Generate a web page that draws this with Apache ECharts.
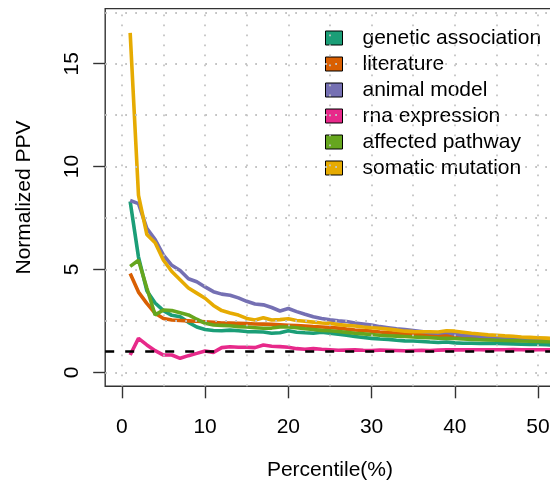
<!DOCTYPE html>
<html>
<head>
<meta charset="utf-8">
<script src="https://cdn.jsdelivr.net/npm/echarts@6/dist/echarts.min.js"></script>
<style>
html,body{margin:0;padding:0;background:#fff;}
#chart{width:550px;height:481px;}
</style>
</head>
<body>
<div id="chart"></div>
<script>
const percentiles = [1,2,3,4,5,6,7,8,9,10,11,12,13,14,15,16,17,18,19,20,21,22,23,24,25,26,27,28,29,30,31,32,33,34,35,36,37,38,39,40,41,42,43,44,45,46,47,48,49,50,51,52,53];

const geneticAssociation = [8.3,5.6,3.97,3.37,3.0,2.77,2.7,2.43,2.2,2.08,2.03,2.02,2.05,2.02,1.98,1.97,1.96,1.9,1.92,2.02,1.95,1.92,1.9,1.95,1.9,1.85,1.8,1.74,1.69,1.65,1.62,1.6,1.56,1.53,1.52,1.5,1.47,1.45,1.47,1.43,1.41,1.41,1.4,1.41,1.4,1.39,1.38,1.37,1.36,1.35,1.34,1.33,1.32];
const literature = [4.8,3.9,3.35,2.87,2.62,2.54,2.52,2.5,2.48,2.46,2.43,2.4,2.39,2.38,2.37,2.35,2.34,2.33,2.31,2.29,2.27,2.25,2.22,2.2,2.18,2.15,2.1,2.06,2.03,2.0,1.96,1.93,1.9,1.87,1.85,1.84,1.82,1.81,1.8,1.76,1.72,1.7,1.67,1.65,1.63,1.61,1.59,1.58,1.57,1.56,1.55,1.54,1.53];
const animalModel = [8.35,8.2,7.0,6.45,5.7,5.2,4.95,4.55,4.4,4.15,3.92,3.8,3.75,3.62,3.45,3.32,3.28,3.15,2.98,3.1,2.95,2.82,2.7,2.62,2.55,2.5,2.47,2.4,2.35,2.3,2.22,2.17,2.12,2.08,2.03,1.98,1.93,1.9,1.95,1.85,1.8,1.78,1.76,1.73,1.71,1.69,1.67,1.65,1.63,1.61,1.58,1.57,1.55];
const rnaExpression = [0.84,1.65,1.33,1.05,0.84,0.84,0.68,0.81,0.92,1.04,0.97,1.2,1.24,1.22,1.22,1.2,1.33,1.27,1.25,1.22,1.15,1.12,1.15,1.12,1.1,1.07,1.08,1.09,1.07,1.06,1.08,1.07,1.06,1.05,1.06,1.07,1.06,1.08,1.09,1.10,1.09,1.10,1.10,1.09,1.10,1.10,1.11,1.10,1.09,1.10,1.10,1.10,1.10];
const affectedPathway = [5.15,5.45,4.1,2.79,3.03,3.0,2.9,2.79,2.58,2.38,2.3,2.28,2.26,2.22,2.2,2.17,2.14,2.15,2.2,2.2,2.17,2.12,2.08,2.04,2.02,1.98,1.94,1.9,1.87,1.84,1.8,1.78,1.76,1.74,1.72,1.7,1.68,1.66,1.65,1.64,1.62,1.6,1.58,1.57,1.56,1.55,1.54,1.52,1.51,1.5,1.49,1.48,1.47];
const somaticMutation = [16.5,8.6,6.7,6.3,5.45,4.9,4.5,4.1,3.85,3.6,3.25,3.0,2.88,2.78,2.62,2.54,2.65,2.54,2.56,2.6,2.52,2.48,2.44,2.4,2.38,2.32,2.28,2.25,2.2,2.17,2.14,2.1,2.05,2.0,1.98,1.97,1.97,1.96,2.02,2.0,1.95,1.9,1.86,1.82,1.8,1.77,1.75,1.72,1.7,1.68,1.66,1.64,1.62];

const seriesNames = ['genetic association','literature','animal model','rna expression','affected pathway','somatic mutation'];
const seriesValues = [geneticAssociation, literature, animalModel, rnaExpression, affectedPathway, somaticMutation];
const seriesColors = ['#1B9E77','#D95F02','#7570B3','#E7298A','#66A61E','#E6AB02'];

const xTickValues = [0,10,20,30,40,50];
const yTickValues = [0,5,10,15];
const xGridValues = [0,5,10,15,20,25,30,35,40,45,50];
const yGridValues = [0,2.5,5,7.5,10,12.5,15,17.5];
const referenceLevel = 1;

const FONT = '"Liberation Sans", Arial, Helvetica, sans-serif';
const chart = echarts.init(document.getElementById('chart'), null, {renderer: 'canvas'});

const dataSeries = seriesNames.map((name, i) => ({
  name: name,
  type: 'line',
  data: percentiles.map((p, j) => [p, seriesValues[i][j]]),
  showSymbol: false,
  symbol: 'none',
  lineStyle: {color: seriesColors[i], width: 3.6},
  itemStyle: {color: seriesColors[i]},
  z: 2,
  emphasis: {disabled: true}
}));

const gridSeries = {
  name: 'grid',
  type: 'line',
  data: [],
  z: 1,
  silent: true,
  markLine: {
    silent: true,
    symbol: 'none',
    label: {show: false},
    animation: false,
    lineStyle: {color: '#c4c4c4', width: 1.8, type: [1.8, 8.2]},
    emphasis: {disabled: true},
    data: xGridValues.map(v => ({xAxis: v})).concat(yGridValues.map(v => ({yAxis: v})))
  }
};

const refSeries = {
  name: 'ref',
  type: 'line',
  data: [],
  z: 3,
  silent: true,
  markLine: {
    silent: true,
    symbol: 'none',
    label: {show: false},
    animation: false,
    lineStyle: {color: '#000', width: 2.6, type: [9, 11]},
    emphasis: {disabled: true},
    data: [{yAxis: referenceLevel}]
  }
};

chart.setOption({
  animation: false,
  backgroundColor: '#fff',
  textStyle: {fontFamily: FONT},
  grid: {
    left: 105.2, top: 8.6, width: 449.5, height: 377.7,
    containLabel: false,
    outerBoundsMode: 'none',
    show: true, borderColor: '#333', borderWidth: 1.4, backgroundColor: 'transparent'
  },
  legend: {
    data: seriesNames,
    orient: 'vertical',
    left: 325, top: 27.5,
    padding: 0,
    icon: 'rect',
    itemWidth: 17, itemHeight: 14,
    itemGap: 5,
    itemStyle: {borderColor: '#000', borderWidth: 1},
    selectedMode: false,
    textStyle: {fontFamily: FONT, fontSize: 21, color: '#000', lineHeight: 21, padding: [0,0,0,15]}
  },
  xAxis: {
    type: 'value',
    min: -2, max: 52,
    name: 'Percentile(%)',
    nameLocation: 'middle',
    nameGap: 73,
    nameTextStyle: {fontFamily: FONT, fontSize: 21, color: '#000'},
    axisLine: {show: false, onZero: false},
    axisTick: {show: true, length: 12, lineStyle: {color: '#333', width: 1.4}, customValues: xTickValues},
    axisLabel: {fontFamily: FONT, fontSize: 21, color: '#000', margin: 30, customValues: xTickValues},
    splitLine: {show: false}
  },
  yAxis: {
    type: 'value',
    min: -0.68, max: 17.68,
    name: 'Normalized PPV',
    nameLocation: 'middle',
    nameGap: 70,
    nameTextStyle: {fontFamily: FONT, fontSize: 21, color: '#000'},
    axisLine: {show: false, onZero: false},
    axisTick: {show: true, length: 12, lineStyle: {color: '#333', width: 1.4}, customValues: yTickValues},
    axisLabel: {fontFamily: FONT, fontSize: 21, color: '#000', margin: 22, rotate: 90, customValues: yTickValues},
    splitLine: {show: false}
  },
  series: [gridSeries].concat(dataSeries).concat([refSeries])
});
</script>
</body>
</html>
